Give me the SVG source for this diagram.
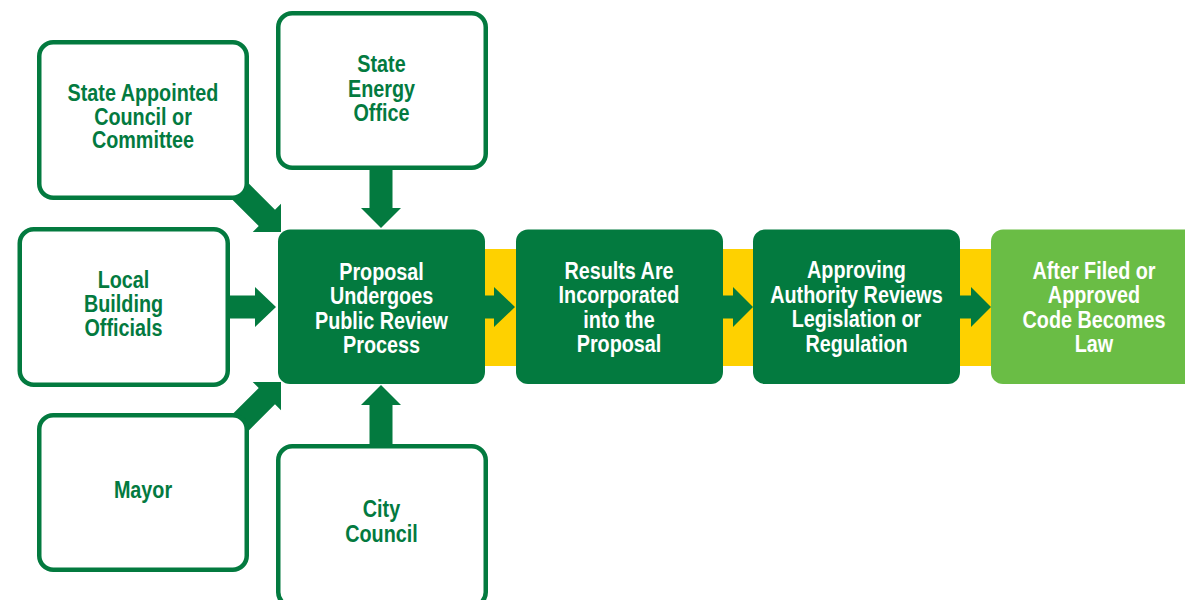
<svg xmlns="http://www.w3.org/2000/svg" width="1185" height="600" viewBox="0 0 1185 600">
<style>
.src rect{fill:#fff;stroke:#037a3f;stroke-width:4.5}
.step rect{fill:#037a3f}
.final rect{fill:#6abd45}
text{font-family:"Liberation Sans",Arial,sans-serif;font-weight:bold;font-size:23px;text-anchor:middle}
.src text{fill:#037a3f}
.step text,.final text{fill:#fff}
.conn polygon{fill:#037a3f}
</style>
<rect x="480" y="249" width="515" height="117" fill="#fed100"/>
<g id="connectors" class="conn">
<polygon points="221.87,189.13 258.73,225.99 252.72,232 281,232 281,203.72 274.99,209.73 238.13,172.87"/>
<polygon points="221.87,424.87 258.73,388.01 252.72,382 281,382 281,410.28 274.99,404.27 238.13,441.13"/>
<polygon points="369.5,168 392.5,168 392.5,208 401,208 381,228 361,208 369.5,208"/>
<polygon points="369.5,447 392.5,447 392.5,405 401,405 381,385 361,405 369.5,405"/>
<polygon points="229,295.5 255,295.5 255,287 276,307 255,327 255,318.5 229,318.5"/>
<polygon points="484,295.5 494,295.5 494,287 515,307 494,327 494,318.5 484,318.5"/>
<polygon points="721,295.5 733,295.5 733,287 753,307 733,327 733,318.5 721,318.5"/>
<polygon points="959,295.5 971,295.5 971,287 991,307 971,327 971,318.5 959,318.5"/>
</g>
<g id="state-council" class="src">
<rect x="39.25" y="42.25" width="207.5" height="155.5" rx="14"/>
<text transform="translate(143 0) scale(0.86 1)"><tspan x="0" y="101.5">State Appointed</tspan><tspan x="0" y="125">Council or</tspan><tspan x="0" y="148.5">Committee</tspan></text>
</g>
<g id="state-energy" class="src">
<rect x="278.25" y="13.25" width="207.5" height="154.5" rx="14"/>
<text transform="translate(381.5 0) scale(0.86 1)"><tspan x="0" y="72">State</tspan><tspan x="0" y="97">Energy</tspan><tspan x="0" y="121">Office</tspan></text>
</g>
<g id="local-officials" class="src">
<rect x="19.75" y="229.25" width="208" height="155.5" rx="14"/>
<text transform="translate(123.5 0) scale(0.86 1)"><tspan x="0" y="288">Local</tspan><tspan x="0" y="312">Building</tspan><tspan x="0" y="336">Officials</tspan></text>
</g>
<g id="mayor" class="src">
<rect x="39.25" y="415.25" width="207.5" height="154.5" rx="14"/>
<text transform="translate(143 0) scale(0.86 1)"><tspan x="0" y="498">Mayor</tspan></text>
</g>
<g id="city-council" class="src">
<rect x="278.25" y="446.25" width="207.5" height="160" rx="14"/>
<text transform="translate(381.5 0) scale(0.86 1)"><tspan x="0" y="517">City</tspan><tspan x="0" y="542">Council</tspan></text>
</g>
<g id="proposal" class="step">
<rect x="278" y="229.5" width="207" height="154.5" rx="12"/>
<text transform="translate(381.5 0) scale(0.86 1)"><tspan x="0" y="280">Proposal</tspan><tspan x="0" y="304.5">Undergoes</tspan><tspan x="0" y="329">Public Review</tspan><tspan x="0" y="353.5">Process</tspan></text>
</g>
<g id="results" class="step">
<rect x="516" y="229.5" width="207" height="154.5" rx="12"/>
<text transform="translate(619 0) scale(0.86 1)"><tspan x="0" y="279">Results Are</tspan><tspan x="0" y="303.5">Incorporated</tspan><tspan x="0" y="328">into the</tspan><tspan x="0" y="352.5">Proposal</tspan></text>
</g>
<g id="approving" class="step">
<rect x="753" y="229.5" width="207" height="154.5" rx="12"/>
<text transform="translate(856.5 0) scale(0.86 1)"><tspan x="0" y="278.5">Approving</tspan><tspan x="0" y="303">Authority Reviews</tspan><tspan x="0" y="327.5">Legislation or</tspan><tspan x="0" y="352">Regulation</tspan></text>
</g>
<g id="law" class="final">
<rect x="991" y="229.5" width="207" height="154.5" rx="12"/>
<text transform="translate(1094 0) scale(0.86 1)"><tspan x="0" y="279">After Filed or</tspan><tspan x="0" y="303.5">Approved</tspan><tspan x="0" y="328">Code Becomes</tspan><tspan x="0" y="352.5">Law</tspan></text>
</g>
</svg>
